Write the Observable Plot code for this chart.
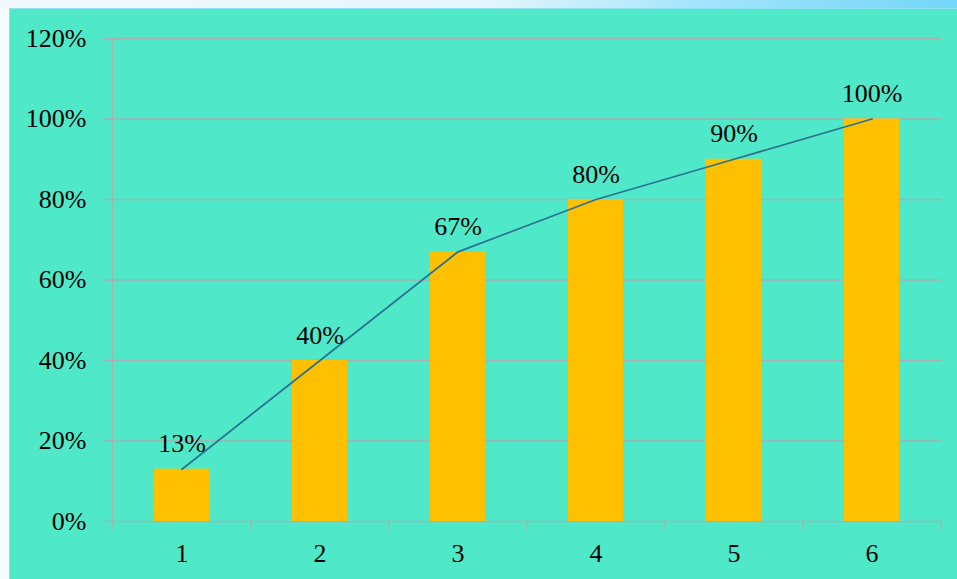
<!DOCTYPE html>
<html>
<head>
<meta charset="utf-8">
<script src="https://cdn.jsdelivr.net/npm/d3@7"></script>
<script src="https://cdn.jsdelivr.net/npm/@observablehq/plot@0.6"></script>
<style>
  html, body { margin: 0; padding: 0; }
  body {
    width: 957px; height: 579px; overflow: hidden; position: relative;
    background: #f4fbff;
  }
  #topstrip {
    position: absolute; left: 0; top: 0; width: 957px; height: 8px;
    background: linear-gradient(to right, #f2f9fd 0%, #e6f6fd 50%, #9fe3fb 75%, #74d6f8 100%);
  }
  #leftstrip {
    position: absolute; left: 0; top: 8px; width: 9px; height: 571px;
    background: #f6fcfe; border-right: 1px solid #8fdff2;
  }
  #chart {
    position: absolute; left: 10px; top: 8px; width: 947px; height: 571px;
    background: #4fe9ca; border-top: 1px solid #8fe3f0; box-sizing: border-box;
  }
  #chart svg { display: block; }
</style>
</head>
<body>
<div id="topstrip"></div>
<div id="leftstrip"></div>
<div id="chart"></div>
<script>
const categories = ["1", "2", "3", "4", "5", "6"];
const values = [0.13, 0.40, 0.67, 0.80, 0.90, 1.00];
const valueLabels = ["13%", "40%", "67%", "80%", "90%", "100%"];
const yTicks = [0, 0.2, 0.4, 0.6, 0.8, 1.0, 1.2];

const data = categories.map((c, i) => ({cat: c, value: values[i], label: valueLabels[i]}));

const W = 947, H = 570;
const mL = 102, mR = 16, mT = 29, mB = 58;
const step = (W - mL - mR) / categories.length;
const gridColor = "#a9b1ae";
const font = "'Liberation Serif', 'Times New Roman', serif";

const chart = Plot.plot({
  width: W,
  height: H,
  marginLeft: mL,
  marginRight: mR,
  marginTop: mT,
  marginBottom: mB,
  style: {background: "transparent", fontFamily: font, fontSize: "26px", color: "#000"},
  x: {domain: categories, paddingInner: 0.6, paddingOuter: 0.3, label: null},
  y: {domain: [0, 1.2], label: null},
  marks: [
    Plot.ruleY(yTicks, {y: d => d, stroke: gridColor, strokeWidth: 1.3, insetLeft: -8}),
    Plot.frame({anchor: "left", stroke: gridColor, strokeWidth: 1.3}),
    Plot.ruleX(categories, {x: d => d, y1: 0, y2: 0, insetBottom: -9, dx: -step / 2, stroke: gridColor, strokeWidth: 1.3}),
    Plot.ruleX([categories[categories.length - 1]], {x: d => d, y1: 0, y2: 0, insetBottom: -9, dx: step / 2, stroke: gridColor, strokeWidth: 1.3}),
    Plot.barY(data, {x: "cat", y: "value", fill: "#ffc000"}),
    Plot.lineY(data, {x: "cat", y: "value", stroke: "#2b7290", strokeWidth: 1.8}),
    Plot.text(data, {x: "cat", y: "value", text: "label", lineAnchor: "bottom", dy: -17, fontSize: 26, fontFamily: font, fill: "#000"}),
    Plot.axisY(yTicks, {tickFormat: d => Math.round(d * 100) + "%", tickSize: 0, tickPadding: 26, fontSize: 26, fontFamily: font, fill: "#000"}),
    Plot.axisX({tickSize: 0, tickPadding: 22, fontSize: 26, fontFamily: font, fill: "#000"})
  ]
});
document.getElementById("chart").appendChild(chart);
</script>
</body>
</html>
